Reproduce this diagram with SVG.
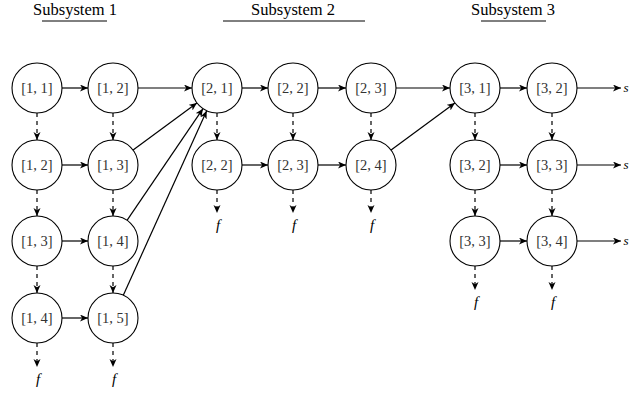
<svg xmlns="http://www.w3.org/2000/svg" width="630" height="393" viewBox="0 0 630 393">
  <defs>
    <marker id="tip" markerUnits="userSpaceOnUse" markerWidth="10" markerHeight="8" refX="8" refY="3.5" orient="auto">
      <path d="M0,0 L8,3.5 L0,7 L2.2,3.5 Z" fill="#000"/>
    </marker>
    <style>
      text { font-family: 'Liberation Serif', 'Times New Roman', serif; }
      .node circle { fill: #fff; stroke: #000; stroke-width: 1.1; }
      .node text { font-size: 14.5px; fill: #333; text-anchor: middle; }
      .edge { fill: none; stroke: #000; stroke-width: 1.2; marker-end: url(#tip); }
      .dash { stroke-dasharray: 4 4; }
      .title { font-size: 16.5px; fill: #000; text-anchor: middle; }
      .rule { stroke: #000; stroke-width: 1; }
      .sym { font-style: italic; font-size: 15px; fill: #000; text-anchor: middle; }
      .cut { font-style: italic; font-size: 13px; fill: #000; }
    </style>
  </defs>
  <rect width="630" height="393" fill="#fff"/>

  <!-- subsystem headings -->
  <g id="headings">
    <text class="title" x="75" y="15">Subsystem 1</text>
    <line class="rule" x1="42" y1="21" x2="107" y2="21"/>
    <text class="title" x="293" y="15">Subsystem 2</text>
    <line class="rule" x1="223" y1="21" x2="365" y2="21"/>
    <text class="title" x="513" y="15">Subsystem 3</text>
    <line class="rule" x1="481" y1="21" x2="546" y2="21"/>
  </g>

  <!-- connectors -->
  <g id="connectors">
    <!-- row 1 -->
    <line class="edge" x1="62" y1="88" x2="88" y2="88"/>
    <line class="edge" x1="138" y1="88" x2="192" y2="88"/>
    <line class="edge" x1="242" y1="88" x2="268" y2="88"/>
    <line class="edge" x1="318" y1="88" x2="346" y2="88"/>
    <line class="edge" x1="396" y1="88" x2="450" y2="88"/>
    <line class="edge" x1="500" y1="88" x2="527" y2="88"/>
    <line class="edge" x1="577" y1="88" x2="621" y2="88"/>
    <!-- row 2 -->
    <line class="edge" x1="62" y1="165" x2="88" y2="165"/>
    <line class="edge" x1="242" y1="165" x2="268" y2="165"/>
    <line class="edge" x1="318" y1="165" x2="346" y2="165"/>
    <line class="edge" x1="500" y1="165" x2="527" y2="165"/>
    <line class="edge" x1="577" y1="165" x2="621" y2="165"/>
    <!-- row 3 -->
    <line class="edge" x1="62" y1="241" x2="88" y2="241"/>
    <line class="edge" x1="500" y1="241" x2="527" y2="241"/>
    <line class="edge" x1="577" y1="241" x2="621" y2="241"/>
    <!-- row 4 -->
    <line class="edge" x1="62" y1="318" x2="88" y2="318"/>
    <!-- links into the next subsystem -->
    <line class="edge" x1="133.1" y1="150.1" x2="196.9" y2="102.9"/>
    <line class="edge" x1="127" y1="220.3" x2="203" y2="108.7"/>
    <line class="edge" x1="123.3" y1="295.2" x2="206.7" y2="110.8"/>
    <line class="edge" x1="391.1" y1="150.1" x2="454.9" y2="102.9"/>
    <!-- vertical dashed links -->
    <line class="edge dash" x1="37" y1="113" x2="37" y2="140"/>
    <line class="edge dash" x1="37" y1="190" x2="37" y2="216"/>
    <line class="edge dash" x1="37" y1="266" x2="37" y2="293"/>
    <line class="edge dash" x1="37" y1="343" x2="37" y2="367"/>
    <line class="edge dash" x1="113" y1="113" x2="113" y2="140"/>
    <line class="edge dash" x1="113" y1="190" x2="113" y2="216"/>
    <line class="edge dash" x1="113" y1="266" x2="113" y2="293"/>
    <line class="edge dash" x1="113" y1="343" x2="113" y2="367"/>
    <line class="edge dash" x1="217" y1="113" x2="217" y2="140"/>
    <line class="edge dash" x1="217" y1="190" x2="217" y2="213"/>
    <line class="edge dash" x1="293" y1="113" x2="293" y2="140"/>
    <line class="edge dash" x1="293" y1="190" x2="293" y2="213"/>
    <line class="edge dash" x1="371" y1="113" x2="371" y2="140"/>
    <line class="edge dash" x1="371" y1="190" x2="371" y2="213"/>
    <line class="edge dash" x1="475" y1="113" x2="475" y2="140"/>
    <line class="edge dash" x1="475" y1="190" x2="475" y2="216"/>
    <line class="edge dash" x1="475" y1="266" x2="475" y2="290"/>
    <line class="edge dash" x1="552" y1="113" x2="552" y2="140"/>
    <line class="edge dash" x1="552" y1="190" x2="552" y2="216"/>
    <line class="edge dash" x1="552" y1="266" x2="552" y2="290"/>
  </g>

  <!-- terminal symbols -->
  <g id="terminals">
    <text class="sym" x="218" y="230">f</text>
    <text class="sym" x="294" y="230">f</text>
    <text class="sym" x="372" y="230">f</text>
    <text class="sym" x="476" y="307">f</text>
    <text class="sym" x="553" y="307">f</text>
    <text class="sym" x="38" y="384">f</text>
    <text class="sym" x="114" y="384">f</text>
    <text class="cut" x="623.5" y="92">s</text>
    <text class="cut" x="623.5" y="169">s</text>
    <text class="cut" x="623.5" y="245">s</text>
  </g>

  <!-- subsystem 1 -->
  <g id="n1-1" class="node"><circle cx="37" cy="88" r="25"/><text x="37" y="93">[1, 1]</text></g>
  <g id="n1-2a" class="node"><circle cx="113" cy="88" r="25"/><text x="113" y="93">[1, 2]</text></g>
  <g id="n1-2b" class="node"><circle cx="37" cy="165" r="25"/><text x="37" y="170">[1, 2]</text></g>
  <g id="n1-3a" class="node"><circle cx="113" cy="165" r="25"/><text x="113" y="170">[1, 3]</text></g>
  <g id="n1-3b" class="node"><circle cx="37" cy="241" r="25"/><text x="37" y="246">[1, 3]</text></g>
  <g id="n1-4a" class="node"><circle cx="113" cy="241" r="25"/><text x="113" y="246">[1, 4]</text></g>
  <g id="n1-4b" class="node"><circle cx="37" cy="318" r="25"/><text x="37" y="323">[1, 4]</text></g>
  <g id="n1-5" class="node"><circle cx="113" cy="318" r="25"/><text x="113" y="323">[1, 5]</text></g>

  <!-- subsystem 2 -->
  <g id="n2-1" class="node"><circle cx="217" cy="88" r="25"/><text x="217" y="93">[2, 1]</text></g>
  <g id="n2-2a" class="node"><circle cx="293" cy="88" r="25"/><text x="293" y="93">[2, 2]</text></g>
  <g id="n2-3a" class="node"><circle cx="371" cy="88" r="25"/><text x="371" y="93">[2, 3]</text></g>
  <g id="n2-2b" class="node"><circle cx="217" cy="165" r="25"/><text x="217" y="170">[2, 2]</text></g>
  <g id="n2-3b" class="node"><circle cx="293" cy="165" r="25"/><text x="293" y="170">[2, 3]</text></g>
  <g id="n2-4" class="node"><circle cx="371" cy="165" r="25"/><text x="371" y="170">[2, 4]</text></g>

  <!-- subsystem 3 -->
  <g id="n3-1" class="node"><circle cx="475" cy="88" r="25"/><text x="475" y="93">[3, 1]</text></g>
  <g id="n3-2a" class="node"><circle cx="552" cy="88" r="25"/><text x="552" y="93">[3, 2]</text></g>
  <g id="n3-2b" class="node"><circle cx="475" cy="165" r="25"/><text x="475" y="170">[3, 2]</text></g>
  <g id="n3-3a" class="node"><circle cx="552" cy="165" r="25"/><text x="552" y="170">[3, 3]</text></g>
  <g id="n3-3b" class="node"><circle cx="475" cy="241" r="25"/><text x="475" y="246">[3, 3]</text></g>
  <g id="n3-4" class="node"><circle cx="552" cy="241" r="25"/><text x="552" y="246">[3, 4]</text></g>
</svg>
